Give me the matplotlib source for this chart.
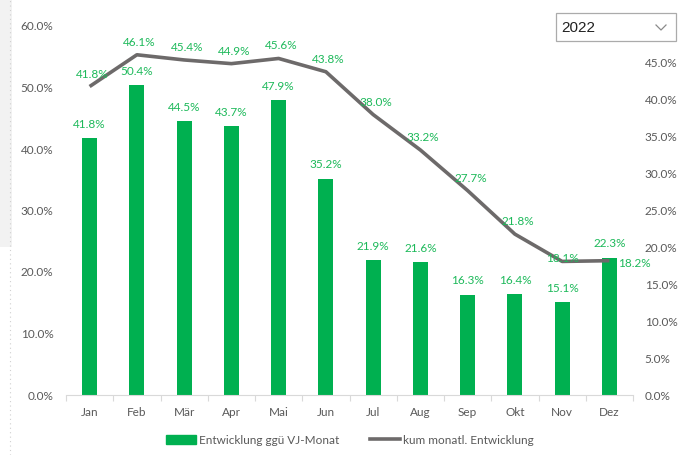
import numpy as np
import matplotlib.pyplot as plt
from matplotlib.patches import Rectangle
from matplotlib.lines import Line2D
from matplotlib.ticker import PercentFormatter

plt.rcParams['font.family'] = ['Lato', 'DejaVu Sans']

# ------------------------------------------------------------
# Data
# ------------------------------------------------------------
months = ['Jan', 'Feb', 'Mär', 'Apr', 'Mai', 'Jun',
          'Jul', 'Aug', 'Sep', 'Okt', 'Nov', 'Dez']
vj_monat = [41.8, 50.4, 44.5, 43.7, 47.9, 35.2, 21.9, 21.6, 16.3, 16.4, 15.1, 22.3]
kum_monatl = [41.8, 46.1, 45.4, 44.9, 45.6, 43.8, 38.0, 33.2, 27.7, 21.8, 18.1, 18.2]
year_label = '2022'

bar_green = '#00B050'
label_green = '#1DB95A'
line_grey = '#6D6A6A'
tick_grey = '#595959'

W, H = 679, 455
fig = plt.figure(figsize=(W / 100, H / 100), dpi=100)

# light grey strip at the left edge (sheet background)
fig.patches.append(Rectangle((0, 1 - 247 / H), 12 / W, 247 / H, transform=fig.transFigure,
                             facecolor='#F2F2F2', edgecolor='none', zorder=0))
fig.add_artist(Line2D([10 / W, 10 / W], [0, 1], transform=fig.transFigure,
                      color='#D0D0D0', lw=0.8, ls=(0, (1, 3))))

ax = fig.add_axes([66 / W, 1 - 395 / H, (633 - 66) / W, (395 - 26) / H])
ax2 = ax.twinx()

x = np.arange(len(months))

# bars on primary axis
ax.bar(x, vj_monat, width=0.32, color=bar_green, zorder=2)
ax.set_ylim(0, 60)
ax.set_yticks(np.arange(0, 61, 10))
ax.yaxis.set_major_formatter(PercentFormatter(decimals=1))
ax.set_xlim(-0.5, len(months) - 0.5)
ax.set_xticks(x)
ax.set_xticklabels(months)
ax.set_xticks(np.arange(-0.5, len(months), 1), minor=True)

for i, v in enumerate(vj_monat):
    ax.annotate(f'{v:.1f}%', (x[i], v), xytext=(0, 10), textcoords='offset points',
                ha='center', va='center', color=label_green, fontsize=8.5)

# line on secondary axis
ax2.plot(x, kum_monatl, color=line_grey, lw=2.6, solid_capstyle='butt', zorder=3)
ax2.set_ylim(0, 50)
ax2.set_yticks(np.arange(0, 46, 5))
ax2.yaxis.set_major_formatter(PercentFormatter(decimals=1))

for i, v in enumerate(kum_monatl):
    if i == len(kum_monatl) - 1:
        ax2.annotate(f'{v:.1f}%', (x[i], v), xytext=(6, -2), textcoords='offset points',
                     ha='left', va='center', color=label_green, fontsize=8.5)
    elif i == len(kum_monatl) - 2:
        ax2.annotate(f'{v:.1f}%', (x[i], v), xytext=(0, 2), textcoords='offset points',
                     ha='center', va='center', color=label_green, fontsize=8.5)
    else:
        ax2.annotate(f'{v:.1f}%', (x[i], v), xytext=(2, 9), textcoords='offset points',
                     ha='center', va='center', color=label_green, fontsize=8.5)

# axes styling
for a in (ax, ax2):
    for s in ('top', 'left', 'right'):
        a.spines[s].set_visible(False)
    a.spines['bottom'].set_color('#D9D9D9')
ax2.spines['bottom'].set_visible(False)

ax.tick_params(axis='y', length=0, pad=9, labelsize=8.5, labelcolor=tick_grey)
ax2.tick_params(axis='y', length=0, pad=8.5, labelsize=8.5, labelcolor=tick_grey)
ax.tick_params(axis='x', which='major', length=0, pad=9, labelsize=8.5, labelcolor=tick_grey)
ax.tick_params(axis='x', which='minor', length=4, color='#D9D9D9', width=0.8)

# legend
handles = [Rectangle((0, 0), 1, 1, color=bar_green),
           Line2D([0], [0], color=line_grey, lw=2.6)]
fig.legend(handles, ['Entwicklung ggü VJ-Monat', 'kum monatl. Entwicklung'],
           loc='center', bbox_to_anchor=(350 / W, 1 - 440 / H), ncol=2, frameon=False,
           fontsize=8.5, labelcolor=tick_grey, handlelength=2.5, handleheight=0.9,
           handletextpad=0.3, columnspacing=2.6)

# year dropdown box
fig.patches.append(Rectangle((556 / W, 1 - 41 / H), 120 / W, 28 / H, transform=fig.transFigure,
                             facecolor='white', edgecolor='#ABABAB', lw=0.9, zorder=5))
fig.text(561 / W, 1 - 27.5 / H, year_label, ha='left', va='center', fontsize=11,
         color='#222222', family=['Liberation Sans', 'DejaVu Sans'], zorder=6)
fig.add_artist(Line2D([656 / W, 661 / W, 666 / W], [1 - 25 / H, 1 - 30 / H, 1 - 25 / H],
                      transform=fig.transFigure, color='#8A8A8A', lw=0.9, zorder=6))

fig.savefig('out.png', dpi=100)
